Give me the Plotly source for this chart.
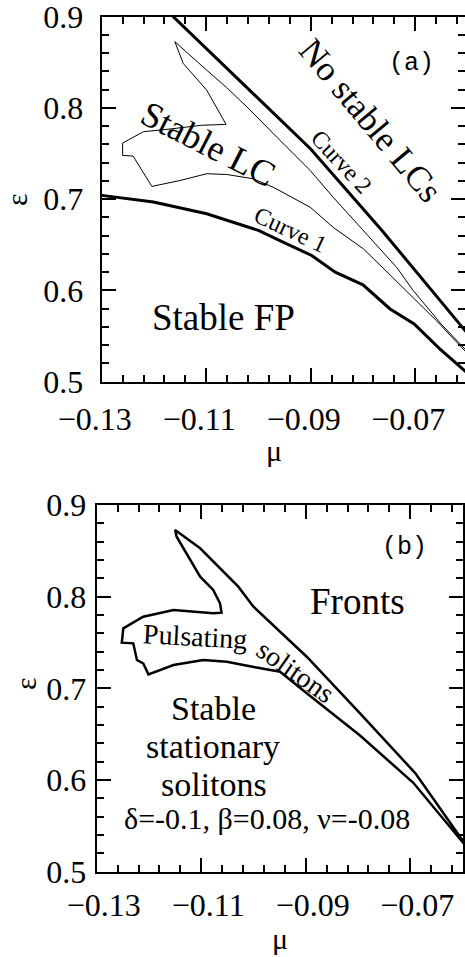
import plotly.graph_objects as go

# ---------------- data ----------------
# panel (a)
curve1_mu = [-0.1300, -0.1201, -0.1099, -0.1000, -0.0959, -0.0898, -0.0853, -0.0800, -0.0748, -0.0702, -0.0654, -0.0605, -0.0598]
curve1_eps = [0.7042, 0.6969, 0.6840, 0.6658, 0.6546, 0.6383, 0.6200, 0.6062, 0.5797, 0.5632, 0.5366, 0.5120, 0.5085]

curve2_mu = [-0.1175, -0.1030, -0.0900, -0.0764, -0.0605, -0.0598]
curve2_eps = [0.9066, 0.8270, 0.7550, 0.6660, 0.5560, 0.5515]

lc_mu = [-0.0598, -0.0605, -0.0650, -0.0704, -0.0735, -0.0799, -0.0857, -0.0901, -0.0927, -0.0965,
         -0.1022, -0.1061, -0.1099, -0.1160, -0.1144, -0.1099, -0.1062, -0.1109, -0.1179, -0.1220,
         -0.1260, -0.1260, -0.1240, -0.1204, -0.1150, -0.1099, -0.1061, -0.1010, -0.0972, -0.0901,
         -0.0857, -0.0799, -0.0748, -0.0704, -0.0659, -0.0605, -0.0598]
lc_eps = [0.5310, 0.5360, 0.5630, 0.6000, 0.6250, 0.6656, 0.7022, 0.7315, 0.7462, 0.7681,
          0.8011, 0.8224, 0.8414, 0.8726, 0.8488, 0.8195, 0.7820, 0.7810, 0.7763, 0.7740,
          0.7615, 0.7480, 0.7473, 0.7140, 0.7205, 0.7279, 0.7271, 0.7224, 0.7132, 0.6912,
          0.6692, 0.6455, 0.6170, 0.5925, 0.5667, 0.5338, 0.5295]

# panel (b)
ps_mu = [-0.0595, -0.0598, -0.0690, -0.0796, -0.0898, -0.1000, -0.1029, -0.1102, -0.1150,
         -0.1147, -0.1102, -0.1077, -0.1064, -0.1061, -0.1077, -0.1115, -0.1153, -0.1211, -0.1249,
         -0.1252, -0.1230, -0.1223, -0.1211, -0.1201, -0.1153, -0.1096, -0.1051, -0.0997, -0.0949,
         -0.0898, -0.0796, -0.0694, -0.0598, -0.0595]
ps_eps = [0.5300, 0.5327, 0.6073, 0.6728, 0.7345, 0.7890, 0.8109, 0.8528, 0.8727,
          0.8654, 0.8218, 0.8073, 0.7928, 0.7825, 0.7818, 0.7836, 0.7855, 0.7782, 0.7655,
          0.7498, 0.7491, 0.7309, 0.7273, 0.7153, 0.7255, 0.7309, 0.7291, 0.7230, 0.7182,
          0.6946, 0.6485, 0.5970, 0.5310, 0.5290]

x_tickvals = [-0.13, -0.11, -0.09, -0.07]
x_ticktext = ["\u22120.13", "\u22120.11", "\u22120.09", "\u22120.07"]
y_tickvals = [0.5, 0.6, 0.7, 0.8, 0.9]
y_ticktext = ["0.5", "0.6", "0.7", "0.8", "0.9"]

W, H = 465, 957
SERIF = "Liberation Serif, Times New Roman, DejaVu Serif, serif"
MONO = "Liberation Mono, Courier New, DejaVu Sans Mono, monospace"

fig = go.Figure()
fig.add_trace(go.Scatter(x=curve1_mu, y=curve1_eps, mode="lines", line=dict(color="black", width=3), xaxis="x", yaxis="y"))
fig.add_trace(go.Scatter(x=curve2_mu, y=curve2_eps, mode="lines", line=dict(color="black", width=3), xaxis="x", yaxis="y"))
fig.add_trace(go.Scatter(x=lc_mu, y=lc_eps, mode="lines", line=dict(color="black", width=1), xaxis="x", yaxis="y"))
fig.add_trace(go.Scatter(x=ps_mu, y=ps_eps, mode="lines", line=dict(color="black", width=2.5), xaxis="x2", yaxis="y2"))


def xax(domain, rng, anchor, standoff, shift):
    return dict(domain=domain, range=rng, anchor=anchor, tickvals=x_tickvals, ticktext=x_ticktext,
                ticks="inside", ticklen=14, tickwidth=1.5, tickcolor="black",
                showline=True, linewidth=2, linecolor="black", mirror="allticks",
                showgrid=False, zeroline=False, automargin=False, ticklabeloverflow="allow",
                minor=dict(ticks="inside", ticklen=7, tickwidth=1.5, tickcolor="black",
                           tick0=-0.13, dtick=0.004, showgrid=False),
                tickfont=dict(family=SERIF, size=32, color="black"),
                ticklabelstandoff=standoff, ticklabelshift=shift)


def yax(domain, anchor, standoff):
    return dict(domain=domain, range=[0.5, 0.9], anchor=anchor, tickvals=y_tickvals, ticktext=y_ticktext,
                ticks="inside", ticklen=14, tickwidth=1.5, tickcolor="black",
                showline=True, linewidth=2, linecolor="black", mirror="allticks",
                showgrid=False, zeroline=False, automargin=False, ticklabeloverflow="allow",
                minor=dict(ticks="inside", ticklen=7, tickwidth=1.5, tickcolor="black",
                           tick0=0.5, dtick=0.02, showgrid=False),
                tickfont=dict(family=SERIF, size=32, color="black"),
                ticklabelstandoff=standoff)


ax_l, ax_t, ax_b = 101.7, 16.7, 381.7
bx_l, bx_r, bx_t, bx_b = 96.7, 463.3, 505.0, 871.7
px_per = 104.5 / 0.02

fig.update_layout(
    template="none",
    width=W, height=H, margin=dict(l=0, r=0, t=0, b=0, autoexpand=False),
    paper_bgcolor="white", plot_bgcolor="white", showlegend=False,
    xaxis=xax([ax_l / W, 1.0], [-0.13, -0.13 + (W - ax_l) / px_per], "y", 8, -7),
    yaxis=yax([1 - ax_b / H, 1 - ax_t / H], "x", 10),
    xaxis2=xax([bx_l / W, bx_r / W], [-0.13, -0.13 + (bx_r - bx_l) / px_per], "y2", 4, 7),
    yaxis2=yax([1 - bx_b / H, 1 - bx_t / H], "x2", 2),
)

ann = []


def t(text, x, y, size, angle=0, ref="a", family=SERIF):
    xr, yr = ("x", "y") if ref == "a" else ("x2", "y2")
    ann.append(dict(text=text, x=x, y=y, xref=xr, yref=yr, showarrow=False, textangle=angle,
                    font=dict(family=family, size=size, color="black"), xanchor="center", yanchor="middle"))


# panel (a) labels
t("(a)", -0.0708, 0.8490, 25, family=MONO)
t("No stable LCs", -0.0786, 0.7860, 35, 50)
t("Curve 2", -0.0841, 0.7407, 24, 47)
t("Stable LC", -0.1096, 0.7609, 36, 27)
t("Curve 1", -0.0938, 0.6660, 24, 25)
t("Stable FP", -0.1067, 0.5703, 37)
# panel (b) labels
t("(b)", -0.0710, 0.8536, 25, ref="b", family=MONO)
t("Fronts", -0.0801, 0.7942, 37, ref="b")
t("Pulsating", -0.1112, 0.7563, 28, 3, ref="b")
t("solitons", -0.0919, 0.7182, 28, 35, ref="b")
t("Stable", -0.1077, 0.6785, 34, ref="b")
t("stationary", -0.1077, 0.6365, 34, ref="b")
t("solitons", -0.1075, 0.5950, 34, ref="b")
t("\u03b4=-0.1, \u03b2=0.08, \u03bd=-0.08", -0.0975, 0.5575, 30, ref="b")


def p(text, px, py, size, angle=0, yanchor="middle"):
    ann.append(dict(text=text, x=px / W, y=1 - py / H, xref="paper", yref="paper", showarrow=False,
                    textangle=angle, font=dict(family=SERIF, size=size, color="black"),
                    xanchor="center", yanchor=yanchor))


p("\u03b5", 16, 200, 30, -90)
p("\u03bc", 274, 450, 30)
p("\u03b5", 25, 684, 30, -90)
p("\u03bc", 280, 957, 30, yanchor="bottom")

fig.update_layout(annotations=ann)
fig.write_html("out.html", config={"displayModeBar": False},
               post_script="document.body.style.margin='0px';")
